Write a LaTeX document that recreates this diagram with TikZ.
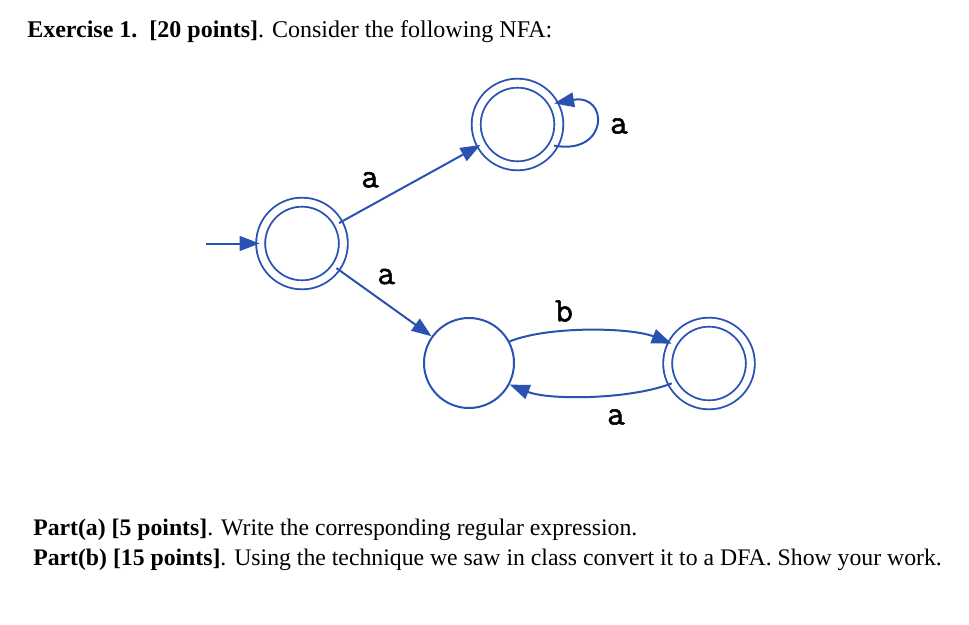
\documentclass[tikz,border=0pt]{standalone}
\usepackage{fontspec}
\setmainfont{Liberation Serif}
\newfontfamily\labfont{Latin Modern Mono}[FakeBold=1.6]
\usetikzlibrary{arrows.meta}
\definecolor{nfablue}{RGB}{42,82,178}
\tikzset{
  st/.style={circle,draw=nfablue,line width=1.5pt,minimum size=67.5pt,inner sep=0pt},
  acc/.style={st,double=white,double distance=5.3pt,line width=1.4pt,minimum size=62pt},
  tr/.style={draw=nfablue,line width=1.5pt,-{Triangle[length=15pt,width=11pt]}},
  lab/.style={font=\labfont\fontsize{26}{26}\selectfont,inner sep=0pt},
  txt/.style={anchor=west,inner sep=0pt}
}
\begin{document}
\begin{tikzpicture}[x=0.75pt,y=-0.75pt]
\useasboundingbox (0,0) rectangle (969,624);
\node[txt] (title) at (27,32) {\fontsize{18}{21}\selectfont\textbf{Exercise 1.}\ \ \textbf{[20 points]}. Consider the following NFA:};
\node[acc] (q0) at (302,243.5) {};
\node[acc] (q1) at (517.5,124.5) {};
\node[st] (q2) at (469,363) {};
\node[acc] (q3) at (709,363.5) {};
\coordinate (init) at (206,243.5);
\draw[tr] (init) -- (q0);
\draw[tr] (q0) -- node[lab,pos=0.22,above=13pt] (l1) {a} (q1);
\draw[tr] (q0) -- node[lab,pos=0.35,above right=5pt] (l2) {a} (q2);
\draw[tr] (q1.-30) .. controls +(55,10) and +(55,-10) .. (q1.30);
\node[lab] (l3) at (619,126) {a};
\draw[tr] (q2.28) .. controls +(40,-16) and +(-40,-16) .. (q3.152);
\draw[tr] (q3.-152) .. controls +(-40,16) and +(40,16) .. (q2.-28);
\node[lab] (l4) at (564,311) {b};
\node[lab] (l5) at (616,417) {a};
\node[txt] (pa) at (33,530) {\fontsize{17.8}{21}\selectfont\textbf{Part(a) [5 points]}. Write the corresponding regular expression.};
\node[txt] (pb) at (33,560) {\fontsize{17.8}{21}\selectfont\textbf{Part(b) [15 points]}. Using the technique we saw in class convert it to a DFA. Show your work.};
\end{tikzpicture}
\end{document}
